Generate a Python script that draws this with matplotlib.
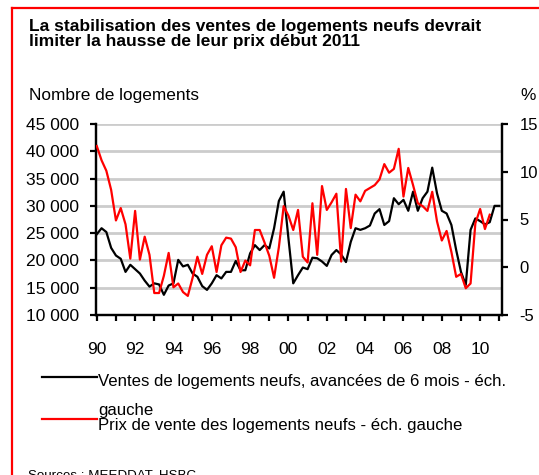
import matplotlib
matplotlib.use("Agg")
import matplotlib.pyplot as plt
import numpy as np
from matplotlib.lines import Line2D

plt.rcParams['font.family'] = ['Liberation Sans', 'DejaVu Sans']

# quarterly data, 1990Q1 onwards
start_year = 1990
# new home sales, advanced 6 months (number of dwellings, left scale)
ventes = [24800, 25900, 25200, 22300, 20900, 20300, 17900, 19200, 18400, 17600,
          16300, 15200, 15800, 15600, 13700, 15400, 15800, 20100, 18900, 19200,
          17600, 17000, 15300, 14600, 15800, 17300, 16700, 17900, 17900, 19900,
          18200, 18200, 21300, 22800, 21900, 22800, 22200, 25900, 30900, 32600,
          24000, 15800, 17300, 18700, 18400, 20500, 20400, 19800, 19000, 21000,
          21900, 21100, 19700, 23400, 25900, 25600, 25900, 26400, 28600, 29400,
          26500, 27200, 31400, 30300, 31100, 29100, 32600, 29100, 31400, 32600,
          37000, 32300, 29100, 28600, 26500, 21900, 17900, 15500, 25600, 27700,
          27200, 26600, 27000, 30000, 30000]
# new home sale prices, % y/y (right scale)
prix = [12.7, 11.2, 10.1, 8.1, 4.9, 6.2, 4.5, 0.9, 5.9, 0.8,
        3.2, 1.3, -2.7, -2.7, -0.9, 1.5, -2.1, -1.7, -2.6, -3.0,
        -1.1, 1.1, -0.7, 1.3, 2.2, -0.5, 2.3, 3.1, 3.0, 2.1,
        -0.5, 0.7, 0.2, 3.9, 3.9, 2.6, 1.2, -1.1, 2.1, 6.4,
        5.4, 3.9, 6.0, 1.1, 0.5, 6.7, 1.3, 8.5, 6.0, 6.8,
        7.7, 0.6, 8.2, 4.1, 7.6, 6.9, 8.0, 8.3, 8.6, 9.2,
        10.8, 9.9, 10.3, 12.4, 7.4, 10.4, 8.6, 6.7, 6.4, 5.9,
        7.9, 4.8, 2.8, 3.8, 1.6, -1.0, -0.7, -2.2, -1.7, 4.6,
        6.1, 4.0, 5.5]

left_ticks = [10000, 15000, 20000, 25000, 30000, 35000, 40000, 45000]
right_ticks = [-5, 0, 5, 10, 15]
year_labels = ['90', '92', '94', '96', '98', '00', '02', '04', '06', '08', '10']

title_1 = "La stabilisation des ventes de logements neufs devrait"
title_2 = "limiter la hausse de leur prix début 2011"
label_ventes_1 = "Ventes de logements neufs, avancées de 6 mois - éch."
label_ventes_2 = "gauche"
label_prix = "Prix de vente des logements neufs - éch. gauche"

W, H = 539, 475
fig = plt.figure(figsize=(W / 100, H / 100), dpi=100)


def fx(px):
    return px / W


def fy(py):
    return 1 - py / H


# red frame
fig.add_artist(Line2D([fx(12), fx(12)], [fy(8), 0], color='#ff0000', lw=1.6))
fig.add_artist(Line2D([fx(12), 1], [fy(8), fy(8)], color='#ff0000', lw=1.6))

ax = fig.add_axes([fx(96), fy(315), fx(502) - fx(96), fy(124) - fy(315)])
ax2 = ax.twinx()

x_v = start_year + np.arange(len(ventes)) / 4
x_p = start_year + np.arange(len(prix)) / 4

for t in left_ticks[1:]:
    ax.axhline(t, color='#cccccc', lw=2, zorder=0)

ax.plot(x_v, ventes, color='black', lw=1.6, zorder=3)
ax2.plot(x_p, prix, color='#ff0000', lw=1.6, zorder=3)

ax.set_xlim(1989.96, 2011.14)
ax.set_ylim(10000, 45000)
ax2.set_ylim(-5, 15)

ax.set_yticks(left_ticks)
ax.set_yticklabels([f"{t:,}".replace(',', ' ') for t in left_ticks])
ax2.set_yticks(right_ticks)
ax2.set_yticklabels([str(t) for t in right_ticks])

ax.set_xticks(np.arange(1990, 2012))
ax.set_xticklabels([year_labels[i // 2] if i % 2 == 0 else '' for i in range(22)])

for a in (ax, ax2):
    a.spines['top'].set_visible(False)
    for s in ('left', 'right', 'bottom'):
        a.spines[s].set_linewidth(1.6)
    a.set_facecolor('none')

ax.tick_params(axis='y', direction='out', length=4.3, width=1.6, labelsize=12.5, pad=8)
ax2.tick_params(axis='y', direction='out', length=4.3, width=1.6, labelsize=12, pad=8.2)
ax.tick_params(axis='x', direction='out', length=4.3, width=1.6, labelsize=12.5, pad=14.8)

fig.text(fx(29), fy(31), title_1, fontsize=12.5, fontweight='bold', va='baseline', ha='left')
fig.text(fx(29), fy(46), title_2, fontsize=12.5, fontweight='bold', va='baseline', ha='left')
fig.text(fx(29), fy(100), "Nombre de logements", fontsize=12.4, va='baseline', ha='left')
fig.text(fx(528), fy(100), "%", fontsize=12.4, va='baseline', ha='center')

# legend drawn by hand
fig.add_artist(Line2D([fx(42), fx(97)], [fy(377), fy(377)], color='black', lw=1.6))
fig.add_artist(Line2D([fx(42), fx(97)], [fy(419), fy(419)], color='#ff0000', lw=1.6))
fig.text(fx(98), fy(386), label_ventes_1, fontsize=12.1, va='baseline', ha='left')
fig.text(fx(98), fy(415), label_ventes_2, fontsize=12.1, va='baseline', ha='left')
fig.text(fx(98), fy(430), label_prix, fontsize=12.1, va='baseline', ha='left')

fig.text(fx(28), fy(469), "Sources : MEEDDAT, HSBC", fontsize=9.6, va='top', ha='left')

fig.savefig("out.png", dpi=100)
